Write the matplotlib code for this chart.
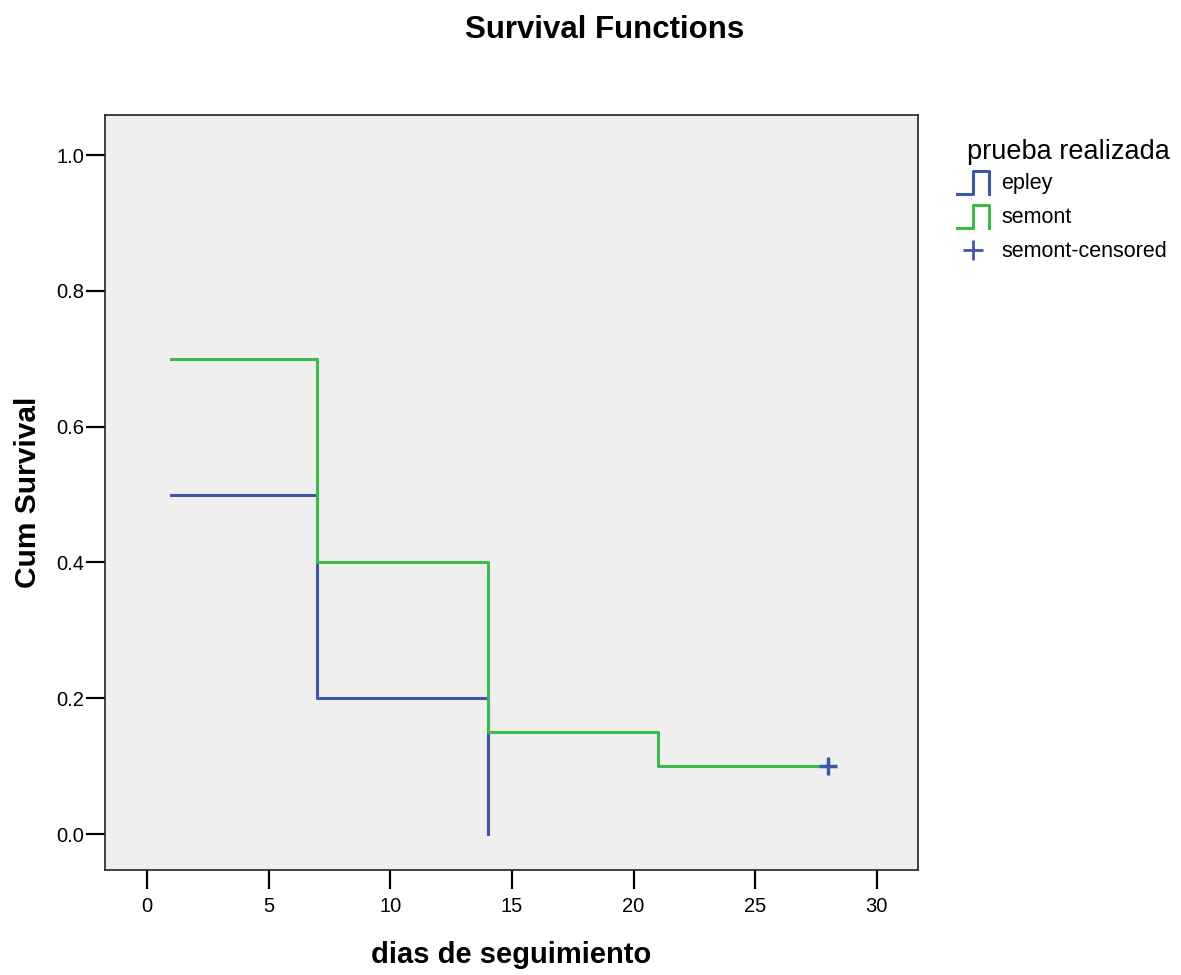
import matplotlib
matplotlib.use("Agg")
import matplotlib.pyplot as plt
from matplotlib.lines import Line2D
from matplotlib.legend_handler import HandlerBase

plt.rcParams['font.family'] = ['Liberation Sans', 'DejaVu Sans']

# Data
epley_t = [1, 7, 14, 14]
epley_s = [0.5, 0.2, 0.0, 0.0]
semont_t = [1, 7, 14, 21, 28]
semont_s = [0.7, 0.4, 0.15, 0.1, 0.1]
censor_t = [28]
censor_s = [0.1]
x_ticks = [0, 5, 10, 15, 20, 25, 30]
y_ticks = [0.0, 0.2, 0.4, 0.6, 0.8, 1.0]

BLUE = '#3f57a8'
GREEN = '#3cba4a'

fig = plt.figure(figsize=(11.81, 9.75), dpi=100)
ax = fig.add_axes([0.0889, 0.1077, 0.6884, 0.7744])
ax.set_facecolor('#efefef')

ax.step(epley_t, epley_s, where='post', color=BLUE, lw=2.2, label='epley')
# vertical drop to zero at the final event
ax.plot([epley_t[-2], epley_t[-1]], [epley_s[-3], epley_s[-2]], color=BLUE, lw=2.2)
ax.step(semont_t, semont_s, where='post', color=GREEN, lw=2.2, label='semont')
ax.plot(censor_t, censor_s, linestyle='none', marker='+', color=BLUE,
        markersize=13, markeredgewidth=2.5, label='semont-censored')

ax.set_xlim(-1.73, 31.69)
ax.set_ylim(-0.053, 1.059)
ax.set_xticks(x_ticks)
ax.set_xticklabels([str(v) for v in x_ticks])
ax.set_yticks(y_ticks)
ax.set_yticklabels([f"{v:.1f}" for v in y_ticks])
ax.tick_params(direction='out', length=13.5, width=1.6, labelsize=14.5, color='black')
ax.tick_params(axis='x', pad=6)
ax.tick_params(axis='y', pad=1.5)
for s in ax.spines.values():
    s.set_linewidth(1.2)
    s.set_color('#222222')

ax.set_xlabel('dias de seguimiento', fontsize=21, fontweight='bold', labelpad=18)
ax.set_ylabel('Cum Survival', fontsize=21.5, fontweight='bold', labelpad=10.5)
fig.suptitle('Survival Functions', fontsize=22.5, fontweight='bold', y=0.985, x=0.512)


class StepHandler(HandlerBase):
    def create_artists(self, legend, orig_handle, xdescent, ydescent, width, height, fontsize, trans):
        c = orig_handle.get_color()
        x0 = -xdescent
        y0 = -ydescent - height * 0.3
        h = height * 1.5
        xs = [x0, x0 + width * 0.5, x0 + width * 0.5, x0 + width, x0 + width]
        ys = [y0, y0, y0 + h, y0 + h, y0]
        l = Line2D(xs, ys, color=c, lw=2.2, transform=trans)
        return [l]


handles = [Line2D([], [], color=BLUE), Line2D([], [], color=GREEN),
           Line2D([], [], color=BLUE, marker='+', linestyle='none', markersize=15, markeredgewidth=2)]
labels = ['epley', 'semont', 'semont-censored']
leg = fig.legend(handles, labels, loc='upper left', bbox_to_anchor=(0.8015, 0.8334),
                 fontsize=15.5, frameon=False, handlelength=1.45, handletextpad=0.6,
                 labelspacing=0.61, borderpad=0.0,
                 handler_map={handles[0]: StepHandler(), handles[1]: StepHandler()})
fig.text(0.8188, 0.8441, 'prueba realizada', fontsize=19.5, va='center', ha='left')

fig.savefig('out.png', dpi=100)
